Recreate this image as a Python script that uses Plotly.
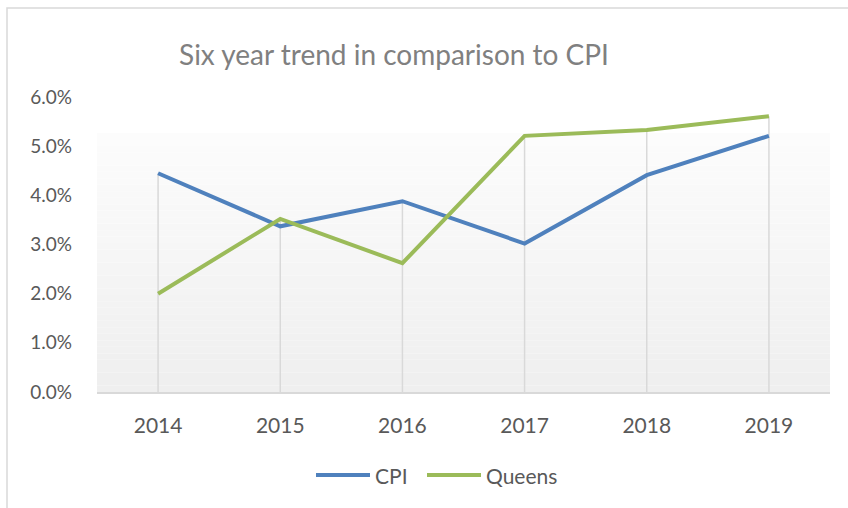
import plotly.graph_objects as go

years = ["2014", "2015", "2016", "2017", "2018", "2019"]
cpi = [0.0445, 0.0337, 0.0388, 0.0302, 0.0441, 0.0521]
queens = [0.0200, 0.0352, 0.0262, 0.0521, 0.0533, 0.0561]
y_ticks = [0, 0.01, 0.02, 0.03, 0.04, 0.05, 0.06]

series = [("CPI", cpi, "#4f81bd"), ("Queens", queens, "#9bbb59")]

FONT = "Lato"
W, H = 848, 508
L, R, T, B = 97, 18, 97, 116
PW, PH = W - L - R, H - T - B


def px_x(p):
    # pixel column -> paper x
    return (p - L) / PW


def px_y(p):
    # pixel row -> paper y
    return (H - B - p) / PH


fig = go.Figure()

# drop lines from the higher point of each year down to the axis
dx, dy = [], []
for yr, a, b in zip(years, cpi, queens):
    dx += [yr, yr, None]
    dy += [0, max(a, b), None]
fig.add_trace(go.Scatter(x=dx, y=dy, mode="lines",
                         line=dict(color="#d9d9d9", width=1.5),
                         hoverinfo="skip", showlegend=False))

for name, vals, col in series:
    fig.add_trace(go.Scatter(x=years, y=vals, name=name, mode="lines",
                             line=dict(color=col, width=4), showlegend=False))

# gradient fill of the plot panel (white at top to light grey at bottom)
shapes = []
n = 40
top = px_y(133)
for i in range(n):
    f = i / n
    c = int(239 + (253 - 239) * f)
    shapes.append(dict(type="rect", xref="paper", yref="paper",
                       x0=0, x1=1, y0=top * f, y1=top * (i + 1) / n,
                       fillcolor=f"rgb({c},{c},{c})", line=dict(width=0),
                       layer="below"))
# chart border
shapes.append(dict(type="rect", xref="paper", yref="paper",
                   x0=px_x(7), x1=1.2, y0=-0.6, y1=px_y(8),
                   line=dict(color="#d9d9d9", width=1.5), layer="below"))

# legend drawn by hand so the swatches are as long as the reference
annotations = []
leg_y = px_y(475)
starts = [316, 427]
for (name, vals, col), x0 in zip(series, starts):
    shapes.append(dict(type="line", xref="paper", yref="paper",
                       x0=px_x(x0), x1=px_x(x0 + 54), y0=leg_y, y1=leg_y,
                       line=dict(color=col, width=4)))
    annotations.append(dict(text=name, xref="paper", yref="paper",
                            x=px_x(x0 + 57), y=leg_y, xanchor="left",
                            yanchor="middle", showarrow=False,
                            font=dict(size=21, color="#595959")))

fig.update_layout(
    width=W, height=H,
    margin=dict(l=L, r=R, t=T, b=B, autoexpand=False),
    paper_bgcolor="white", plot_bgcolor="rgba(0,0,0,0)",
    font=dict(family=FONT, color="#595959", size=21),
    title=dict(text="Six year trend in comparison to CPI",
               x=394 / W, xref="container", xanchor="center",
               y=1 - 55 / H, yref="container", yanchor="middle",
               font=dict(family=FONT, size=28, color="#808080")),
    shapes=shapes,
    annotations=annotations,
    showlegend=False,
    hovermode=False,
)

fig.update_xaxes(type="category", range=[-0.5, len(years) - 0.5],
                 showgrid=False, showline=True, automargin=False,
                 linecolor="#d9d9d9", linewidth=1.5, ticks="",
                 ticklabelstandoff=14, zeroline=False)
fig.update_yaxes(range=[0, 0.06], tickvals=y_ticks, tickformat=".1%",
                 showgrid=False, showline=False, zeroline=False, ticks="",
                 automargin=False, ticklabelstandoff=24,
                 tickfont=dict(size=19))

# the page body has an 8px default margin; drop it so pixels line up
fig.write_html("out.html", config={"displayModeBar": False},
               post_script="document.body.style.margin='0px';")
